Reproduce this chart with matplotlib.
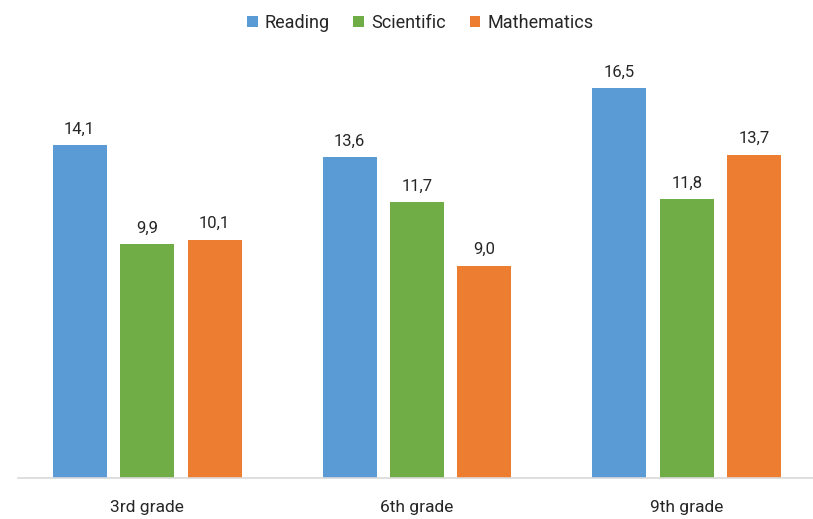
import matplotlib
matplotlib.use("Agg")
import matplotlib.pyplot as plt
import numpy as np

plt.rcParams['font.family'] = ['Roboto', 'DejaVu Sans']

# data
grades = ["3rd grade", "6th grade", "9th grade"]
series = ["Reading", "Scientific", "Mathematics"]
reading = [14.1, 13.6, 16.5]
scientific = [9.9, 11.7, 11.8]
mathematics = [10.1, 9.0, 13.7]
colors = ["#5B9BD5", "#70AD47", "#ED7D31"]

fig = plt.figure(figsize=(8.13, 5.19), dpi=100)
ax = fig.add_axes([18 / 813, 1 - 478 / 519, 798 / 813, 425 / 519])

x = np.arange(len(grades))
width = 0.2
offsets = [-0.25, 0.0, 0.25]
for vals, name, col, off in zip([reading, scientific, mathematics], series, colors, offsets):
    bars = ax.bar(x + off, vals, width, color=col, label=name)
    for b, v in zip(bars, vals):
        ax.annotate(f"{v:.1f}".replace(".", ","),
                    (b.get_x() + b.get_width() / 2, b.get_height()),
                    xytext=(0, 6), textcoords="offset points",
                    ha="center", va="bottom", fontsize=12, color="#262626")

ax.set_xlim(-0.478, 2.478)
ax.set_ylim(0, 18)
ax.set_xticks(x)
ax.set_xticklabels(grades, fontsize=12.5, color="#262626")
ax.tick_params(axis="x", length=0, pad=16)
ax.set_yticks([])
for s in ["top", "left", "right"]:
    ax.spines[s].set_visible(False)
ax.spines["bottom"].set_color("#D9D9D9")
ax.spines["bottom"].set_linewidth(1.2)

fig.legend(loc="upper center", bbox_to_anchor=(0.517, 1.005), ncol=3, frameon=False,
           fontsize=13, handlelength=0.6, handleheight=0.6, handletextpad=0.4,
           columnspacing=1.3, labelcolor="#262626")

fig.savefig("out.png", dpi=100)
